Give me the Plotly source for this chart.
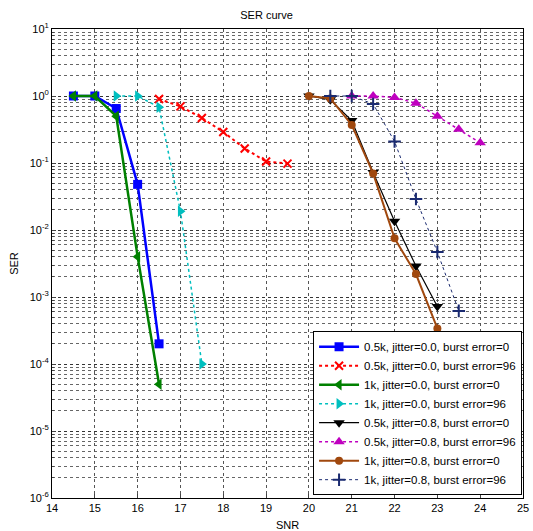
import plotly.graph_objects as go

snr_a = [14.5, 15, 15.5, 16, 16.5]
ser_05k_j0_b0 = [1, 1, 0.65, 0.048, 2.0e-4]
ser_1k_j0_b0 = [1, 1, 0.5, 0.004, 5e-5]

snr_red = [16.5, 17, 17.5, 18, 18.5, 19, 19.5]
ser_05k_j0_b96 = [0.9, 0.7, 0.47, 0.29, 0.165, 0.105, 0.098]

snr_cyan = [15.5, 16, 16.5, 17, 17.5]
ser_1k_j0_b96 = [1, 1, 0.68, 0.019, 1.0e-4]

snr_b = [20, 20.5, 21, 21.5, 22, 22.5, 23]
ser_05k_j8_b0 = [1, 0.88, 0.43, 0.072, 0.0135, 0.0029, 7.2e-4]
ser_1k_j8_b0 = [1, 0.92, 0.37, 0.07, 0.0075, 0.0022, 3.4e-4]

snr_mag = [21, 21.5, 22, 22.5, 23, 23.5, 24]
ser_05k_j8_b96 = [1, 1, 0.95, 0.78, 0.5, 0.32, 0.2]

snr_navy = [20.5, 21, 21.5, 22, 22.5, 23, 23.5]
ser_1k_j8_b96 = [1, 1, 0.76, 0.21, 0.029, 0.0047, 6.2e-4]

names = [
    "0.5k, jitter=0.0, burst error=0",
    "0.5k, jitter=0.0, burst error=96",
    "1k, jitter=0.0, burst error=0",
    "1k, jitter=0.0, burst error=96",
    "0.5k, jitter=0.8, burst error=0",
    "0.5k, jitter=0.8, burst error=96",
    "1k, jitter=0.8, burst error=0",
    "1k, jitter=0.8, burst error=96",
]
x_tick_vals = list(range(14, 26))
y_exponents = list(range(-6, 2))
y_tick_vals = [10.0 ** e for e in y_exponents]
y_tick_text = ["10<sup>%d</sup>" % e for e in y_exponents]
y_minor_vals = [m * 10.0 ** e for e in y_exponents[:-1] for m in range(2, 10)]

series = [
    (snr_a, ser_05k_j0_b0, "#0000ff", "solid", 2.5, "square", 9),
    (snr_red, ser_05k_j0_b96, "#ff0000", "dot", 2, "x-thin", 8),
    (snr_a, ser_1k_j0_b0, "#008000", "solid", 2.5, "triangle-left", 10),
    (snr_cyan, ser_1k_j0_b96, "#00bfbf", "dot", 1.5, "triangle-right", 10),
    (snr_b, ser_05k_j8_b0, "#000000", "solid", 1.2, "triangle-down", 10),
    (snr_mag, ser_05k_j8_b96, "#bf00bf", "dot", 1.5, "triangle-up", 10),
    (snr_b, ser_1k_j8_b0, "#a0480e", "solid", 2, "circle", 8),
    (snr_navy, ser_1k_j8_b96, "#1a2a70", "dot", 1, "cross-thin", 9),
]

fig = go.Figure()
for (x, y, c, dash, w, sym, sz), nm in zip(series, names):
    thin = sym.endswith("thin")
    fig.add_trace(go.Scatter(
        x=x, y=y, name=nm, mode="lines+markers",
        line=dict(color=c, dash=dash, width=w),
        marker=dict(symbol=sym, size=sz, color=c,
                    line=dict(color=c, width=2 if thin else 0)),
    ))

fig.update_layout(
    width=533, height=531,
    margin=dict(l=52, r=10, t=29, b=33),
    paper_bgcolor="white", plot_bgcolor="white",
    font=dict(family="Liberation Sans, Arial", size=11, color="black"),
    title=dict(text="SER curve", x=0.5, xanchor="center", y=0.978, yanchor="top",
               font=dict(size=11)),
    showlegend=True,
    legend=dict(x=0.998, xanchor="right", y=0.006, yanchor="bottom",
                bgcolor="white", bordercolor="black", borderwidth=1,
                font=dict(size=11.5), tracegroupgap=0, itemwidth=40),
)
fig.update_xaxes(
    range=[14, 25], tickvals=x_tick_vals, showline=True, linecolor="black",
    mirror=True, ticks="inside", ticklen=4, showgrid=True, automargin=False,
    gridcolor="#555", griddash="dot", gridwidth=1, zeroline=False,
    title=dict(text="SNR", standoff=8, font=dict(size=11)),
)
fig.update_yaxes(
    type="log", range=[-6, 1], tickvals=y_tick_vals, ticktext=y_tick_text,
    showline=True, linecolor="black", mirror=True, ticks="inside", ticklen=4,
    showgrid=True, gridcolor="#333", griddash="dot", gridwidth=1, automargin=False,
    minor=dict(tickmode="array", tickvals=y_minor_vals, showgrid=True,
               gridcolor="#666", griddash="dot", gridwidth=1,
               ticks="inside", ticklen=2),
    title=dict(text="SER", standoff=8, font=dict(size=11)),
)

fig.write_html("out.html")
